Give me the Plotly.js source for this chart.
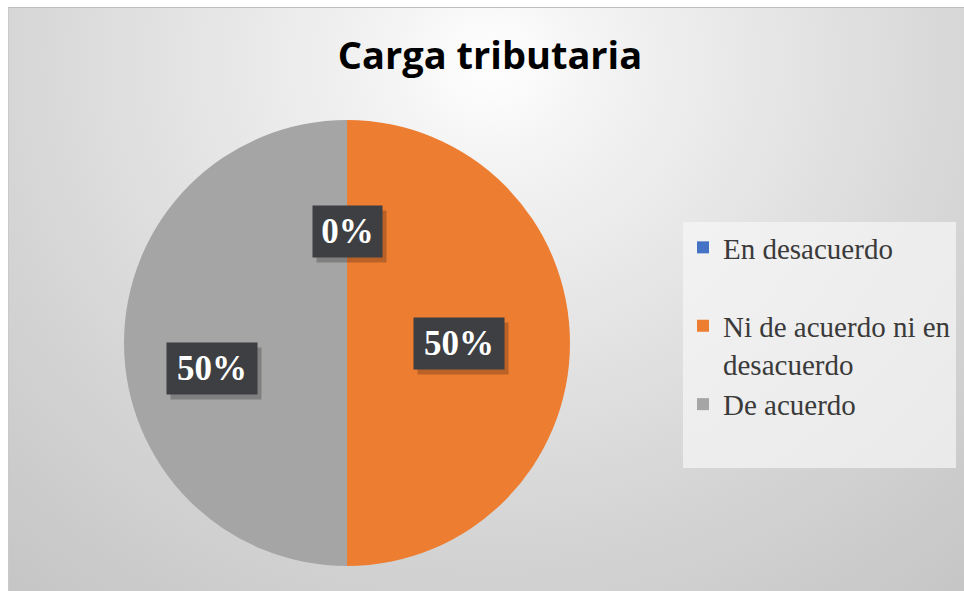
<!DOCTYPE html>
<html>
<head>
<meta charset="utf-8">
<script src="https://cdn.plot.ly/plotly-3.0.1.min.js"></script>
<style>
  html, body { margin: 0; padding: 0; background: #ffffff; }
  #wrap { position: relative; width: 964px; height: 591px; overflow: hidden; }
  #bg {
    position: absolute; left: 8px; top: 7px; right: 0; bottom: 0;
    background: radial-gradient(ellipse 620px 580px at 482px 55px, #ffffff 0%, #f3f3f3 18%, #d5d5d5 80%, #c3c3c3 125%);
    border-top: 1px solid #bdbdbd; border-left: 1px solid #c9c9c9;
  }
  #chart { position: absolute; left: 0; top: 0; width: 964px; height: 591px; }
</style>
</head>
<body>
<div id="wrap">
  <div id="bg"></div>
  <div id="chart"></div>
</div>
<script>
// ---- data ----
const titleText = "Carga tributaria";
const categories = ["En desacuerdo", "Ni de acuerdo ni en desacuerdo", "De acuerdo"];
const legendLabels = ["En desacuerdo<br> ", "Ni de acuerdo ni en<br>desacuerdo", "De acuerdo<br> "];
const values = [0, 50, 50];
const sliceColors = ["#4472C4", "#ED7D31", "#A5A5A5"];

// ---- layout constants (px) ----
const W = 964, H = 591;
const CX = 347, CY = 343, R = 223;
const labelRadius = 0.5;              // fraction of radius for label placement
const labelNudge = [[0, 0], [0, 0], [-24, -25]]; // px tweaks (x right, y up)

const total = values.reduce((a, b) => a + b, 0);
const pct = values.map(v => Math.round(v / total * 100) + "%");

// pie trace
const trace = {
  type: "pie",
  labels: legendLabels,
  values: values,
  sort: false,
  direction: "clockwise",
  rotation: 0,
  marker: { colors: sliceColors, line: { width: 0 } },
  textinfo: "none",
  hoverinfo: "label+percent",
  showlegend: true,
  domain: { x: [(CX - R) / W, (CX + R) / W], y: [1 - (CY + R) / H, 1 - (CY - R) / H] }
};

// data labels computed from slice mid-angles
const annotations = [];
let cum = 0;
values.forEach((v, i) => {
  const mid = (cum + v / 2) / total * 2 * Math.PI;
  cum += v;
  const px = CX + labelRadius * R * Math.sin(mid);
  const py = CY - labelRadius * R * Math.cos(mid);
  const common = {
    x: px / W, y: 1 - py / H, xref: "paper", yref: "paper",
    showarrow: false,
    width: 19 + 21 * pct[i].length, height: 43, borderpad: 4,
    xanchor: "center", yanchor: "middle"
  };
  // shadow box (no text)
  annotations.push(Object.assign({}, common, {
    text: " ",
    xshift: labelNudge[i][0] + 4, yshift: labelNudge[i][1] - 5,
    bgcolor: "rgba(0,0,0,0.22)",
    font: { family: "Liberation Serif", size: 35, color: "rgba(0,0,0,0)" }
  }));
  annotations.push(Object.assign({}, common, {
    text: pct[i],
    xshift: labelNudge[i][0], yshift: labelNudge[i][1],
    bgcolor: "#3d3f42",
    font: { family: "Liberation Serif", size: 35, color: "#ffffff", weight: "bold" }
  }));
});

const layout = {
  width: W, height: H,
  margin: { l: 0, r: 0, t: 0, b: 0 },
  paper_bgcolor: "rgba(0,0,0,0)",
  plot_bgcolor: "rgba(0,0,0,0)",
  title: {
    text: titleText,
    font: { family: "Open Sans", size: 38, color: "#000000", weight: "bold" },
    x: 490 / W, xanchor: "center", xref: "container",
    y: 1 - 42 / H, yanchor: "top", yref: "container"
  },
  legend: {
    x: 683 / W, y: 1 - 222 / H, xanchor: "left", yanchor: "top",
    bgcolor: "rgba(246,246,246,0.7)",
    font: { family: "Liberation Serif", size: 29, color: "#3a3a3a" },
    valign: "top",
    traceorder: "normal"
  },
  annotations: annotations
};

Plotly.newPlot("chart", [trace], layout, { displayModeBar: false, staticPlot: true });
</script>
</body>
</html>
